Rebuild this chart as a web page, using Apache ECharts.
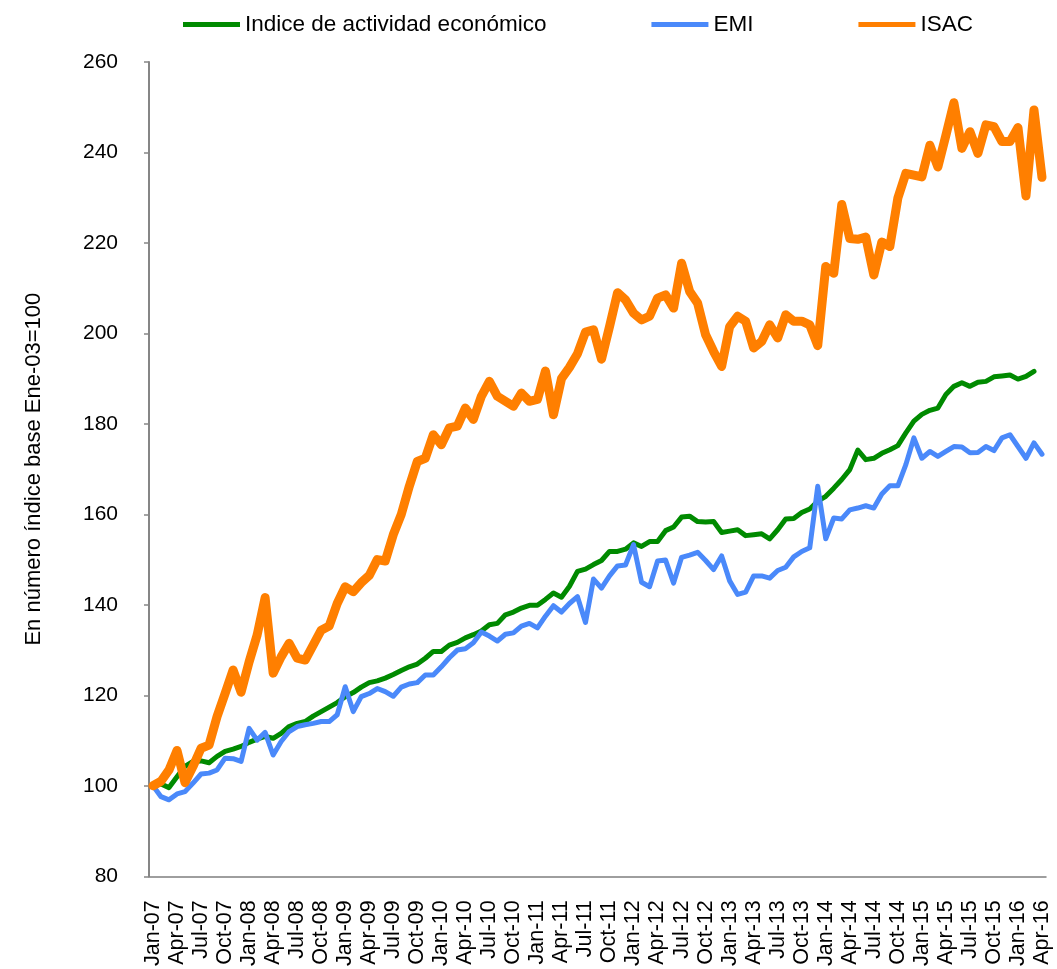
<!DOCTYPE html>
<html>
<head>
<meta charset="utf-8">
<script src="https://cdn.jsdelivr.net/npm/echarts@6/dist/echarts.min.js"></script>
<style>
html,body{margin:0;padding:0;background:#fff;}
#chart{width:1057px;height:969px;}
</style>
</head>
<body>
<div id="chart"></div>
<script>
// Categories: Jan-07 .. Apr-16 (monthly)
var monthNames = ['Jan','Feb','Mar','Apr','May','Jun','Jul','Aug','Sep','Oct','Nov','Dec'];
var years = ['07','08','09','10','11','12','13','14','15','16'];
var categories = [];
years.forEach(function (y) {
  monthNames.forEach(function (m) {
    if (categories.length < 112) categories.push(m + '-' + y);
  });
});

var seriesNames = ['Indice de actividad económico', 'EMI', 'ISAC'];

// Indice de actividad económico (ends Mar-16)
var actividad = [
  100, 100.4, 99.6, 102.0, 104.3, 105.4, 105.5, 105.1, 106.5, 107.6, 108.1, 108.7,
  109.6, 110.3, 110.9, 110.5, 111.6, 113.1, 113.8, 114.2, 115.4, 116.4, 117.4, 118.4,
  119.7, 120.6, 121.8, 122.8, 123.2, 123.8, 124.6, 125.5, 126.3, 126.9, 128.2, 129.7,
  129.7, 131.1, 131.7, 132.7, 133.4, 134.2, 135.6, 135.9, 137.8, 138.4, 139.3, 139.9,
  139.9, 141.2, 142.6, 141.7, 144.1, 147.4, 147.9, 148.9, 149.8, 151.8, 151.8, 152.3,
  153.7, 152.9, 154.0, 154.0, 156.4, 157.2, 159.4, 159.6, 158.4, 158.3, 158.4, 156.0,
  156.3, 156.6, 155.3, 155.5, 155.7, 154.6, 156.6, 159.0, 159.1, 160.4, 161.2, 162.9,
  164.0, 165.8, 167.7, 169.9, 174.2, 172.1, 172.4, 173.5, 174.3, 175.2, 178.0, 180.6,
  182.1, 183.0, 183.5, 186.5, 188.3, 189.1, 188.3, 189.2, 189.4, 190.4, 190.6, 190.8,
  189.9, 190.5, 191.6
];

// EMI
var emi = [
  100, 97.6, 96.9, 98.2, 98.7, 100.6, 102.6, 102.8, 103.5, 106.1, 106.0, 105.4,
  112.7, 110.1, 111.8, 106.8, 109.8, 112.0, 113.1, 113.5, 113.8, 114.2, 114.2, 115.7,
  121.9, 116.4, 119.7, 120.4, 121.5, 120.8, 119.8, 121.8, 122.5, 122.8, 124.5, 124.5,
  126.3, 128.3, 130.0, 130.3, 131.6, 134.0, 133.1, 132.0, 133.5, 133.8, 135.3, 135.9,
  134.9, 137.5, 139.8, 138.4, 140.3, 141.8, 136.1, 145.7, 143.7, 146.4, 148.6, 148.8,
  153.3, 145.0, 144.0, 149.7, 149.9, 144.8, 150.5, 151.0, 151.6, 149.8, 147.8, 150.8,
  145.3, 142.3, 142.8, 146.4, 146.4, 145.9, 147.6, 148.3, 150.6, 151.8, 152.6, 166.2,
  154.6, 159.2, 159.0, 161.0, 161.4, 161.9, 161.4, 164.5, 166.3, 166.3, 171.0, 176.9,
  172.4, 173.9, 172.8, 173.9, 175.0, 174.9, 173.6, 173.7, 175.0, 174.1, 176.9, 177.6,
  175.0, 172.4, 175.8, 173.3
];

// ISAC
var isac = [
  100, 101.0, 103.5, 107.8, 100.7, 104.3, 108.3, 109.0, 115.3, 120.4, 125.6, 120.7,
  127.4, 133.3, 141.6, 124.9, 128.5, 131.5, 128.2, 127.8, 131.1, 134.4, 135.3, 140.3,
  144.0, 142.9, 144.9, 146.5, 150.0, 149.7, 155.5, 160.0, 166.2, 171.7, 172.4, 177.6,
  175.4, 179.1, 179.5, 183.5, 181.0, 186.1, 189.4, 186.1, 185.0, 183.9, 186.8, 185.0,
  185.4, 191.7, 182.0, 190.0, 192.5, 195.5, 200.3, 200.8, 194.3, 201.5, 209.0, 207.4,
  204.5, 203.0, 203.8, 207.8, 208.5, 205.6, 215.5, 209.3, 206.7, 199.7, 196.0, 192.7,
  201.5, 203.8, 202.7, 196.8, 198.2, 201.9, 199.0, 204.1, 202.7, 202.7, 201.9, 197.3,
  214.8, 213.3, 228.5, 221.0, 220.8, 221.3, 212.9, 220.2, 219.2, 229.9, 235.4, 235.0,
  234.6, 241.6, 236.8, 243.8, 251.0, 240.9, 244.6, 239.8, 246.1, 245.7, 242.4, 242.4,
  245.5, 230.4, 249.4, 234.5
];

var yMin = 80, yMax = 260, yStep = 20;
var yName = 'En número índice base Ene-03=100';
var colors = ['#008A00', '#4A89FA', '#FF7F00'];
var widths = [5, 5, 9];
var font = "'Liberation Sans', Arial, sans-serif";

var chart = echarts.init(document.getElementById('chart'), null, {renderer: 'canvas'});
var values = [actividad, emi, isac];

chart.setOption({
  animation: false,
  backgroundColor: '#ffffff',
  color: colors,
  legend: {
    left: 178,
    top: 8,
    itemWidth: 57,
    itemHeight: 5,
    itemGap: 105,
    icon: 'rect',
    textStyle: {fontFamily: font, fontSize: 22.5, color: '#000'},
    data: seriesNames
  },
  grid: {left: 149, right: 11, top: 62, bottom: 92, containLabel: false},
  xAxis: {
    type: 'category',
    data: categories,
    boundaryGap: true,
    axisLine: {lineStyle: {color: '#7f7f7f', width: 1.5}},
    axisTick: {interval: 2, length: 6, lineStyle: {color: '#7f7f7f', width: 1.5}},
    axisLabel: {
      interval: 2, rotate: 90, margin: 24,
      fontFamily: font, fontSize: 21.5, color: '#000'
    },
    splitLine: {show: false}
  },
  yAxis: {
    type: 'value',
    min: yMin, max: yMax, interval: yStep,
    name: yName,
    nameLocation: 'middle',
    nameRotate: 90,
    nameGap: 104,
    nameTextStyle: {fontFamily: font, fontSize: 22, color: '#000'},
    axisLine: {show: true, lineStyle: {color: '#868686', width: 2}},
    axisTick: {show: true, length: 5, lineStyle: {color: '#868686', width: 1.5}},
    axisLabel: {margin: 31, fontFamily: font, fontSize: 21, color: '#000'},
    splitLine: {show: false}
  },
  series: seriesNames.map(function (n, k) {
    return {
      name: n,
      type: 'line',
      data: values[k],
      symbol: 'none',
      smooth: false,
      z: 2 + k,
      lineStyle: {color: colors[k], width: widths[k], cap: 'round', join: 'round'},
      itemStyle: {color: colors[k]}
    };
  })
});
</script>
</body>
</html>
